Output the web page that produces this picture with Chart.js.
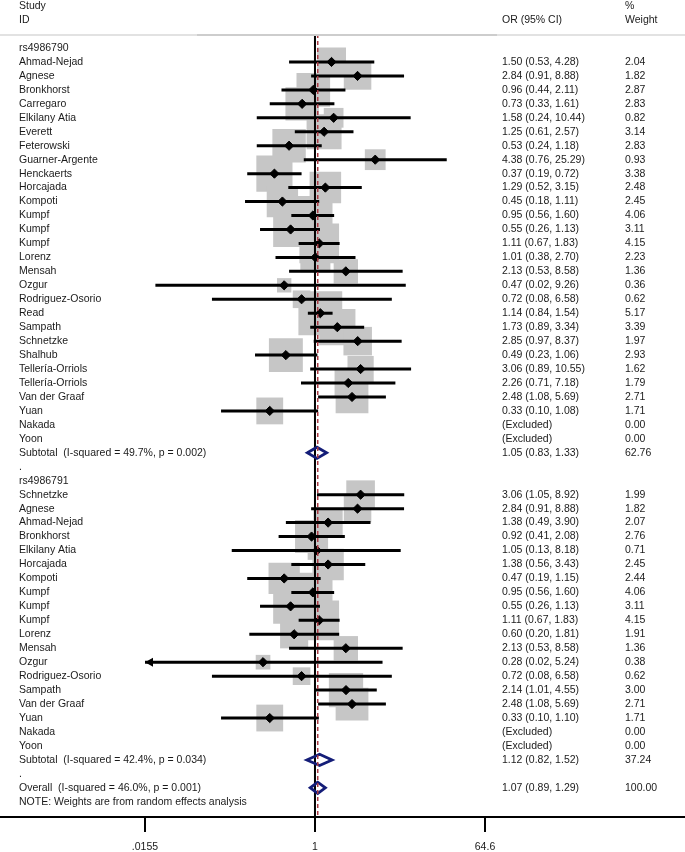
<!DOCTYPE html>
<html><head><meta charset="utf-8">
<script src="https://cdn.jsdelivr.net/npm/chart.js@4.4.0/dist/chart.umd.min.js"></script>
<style>html,body{margin:0;padding:0;background:#fff;}canvas{display:block;}</style>
</head><body>
<canvas id="c" width="685" height="852"></canvas>
<script>
const groupNames = ['rs4986790', 'rs4986791'];

const g1Studies = ['Ahmad-Nejad','Agnese','Bronkhorst','Carregaro','Elkilany Atia','Everett','Feterowski','Guarner-Argente','Henckaerts','Horcajada','Kompoti','Kumpf','Kumpf','Kumpf','Lorenz','Mensah','Ozgur','Rodriguez-Osorio','Read','Sampath','Schnetzke','Shalhub','Tellería-Orriols','Tellería-Orriols','Van der Graaf','Yuan','Nakada','Yoon'];
const g1OR     = [1.50,2.84,0.96,0.73,1.58,1.25,0.53,4.38,0.37,1.29,0.45,0.95,0.55,1.11,1.01,2.13,0.47,0.72,1.14,1.73,2.85,0.49,3.06,2.26,2.48,0.33,null,null];
const g1Lower  = [0.53,0.91,0.44,0.33,0.24,0.61,0.24,0.76,0.19,0.52,0.18,0.56,0.26,0.67,0.38,0.53,0.02,0.08,0.84,0.89,0.97,0.23,0.89,0.71,1.08,0.10,null,null];
const g1Upper  = [4.28,8.88,2.11,1.61,10.44,2.57,1.18,25.29,0.72,3.15,1.11,1.60,1.13,1.83,2.70,8.58,9.26,6.58,1.54,3.34,8.37,1.06,10.55,7.18,5.69,1.08,null,null];
const g1Weight = [2.04,1.82,2.87,2.83,0.82,3.14,2.83,0.93,3.38,2.48,2.45,4.06,3.11,4.15,2.23,1.36,0.36,0.62,5.17,3.39,1.97,2.93,1.62,1.79,2.71,1.71,0.00,0.00];

const g2Studies = ['Schnetzke','Agnese','Ahmad-Nejad','Bronkhorst','Elkilany Atia','Horcajada','Kompoti','Kumpf','Kumpf','Kumpf','Lorenz','Mensah','Ozgur','Rodriguez-Osorio','Sampath','Van der Graaf','Yuan','Nakada','Yoon'];
const g2OR     = [3.06,2.84,1.38,0.92,1.05,1.38,0.47,0.95,0.55,1.11,0.60,2.13,0.28,0.72,2.14,2.48,0.33,null,null];
const g2Lower  = [1.05,0.91,0.49,0.41,0.13,0.56,0.19,0.56,0.26,0.67,0.20,0.53,0.0154,0.08,1.01,1.08,0.10,null,null];
const g2Upper  = [8.92,8.88,3.90,2.08,8.18,3.43,1.15,1.60,1.13,1.83,1.81,8.58,5.24,6.58,4.55,5.69,1.10,null,null];
const g2Weight = [1.99,1.82,2.07,2.76,0.71,2.45,2.44,4.06,3.11,4.15,1.91,1.36,0.38,0.62,3.00,2.71,1.71,0.00,0.00];

const subtotalLabels = ['Subtotal  (I-squared = 49.7%, p = 0.002)', 'Subtotal  (I-squared = 42.4%, p = 0.034)'];
const subtotalOR     = [1.05, 1.12];
const subtotalLower  = [0.83, 0.82];
const subtotalUpper  = [1.33, 1.52];
const subtotalWeight = [62.76, 37.24];

const overallLabel  = 'Overall  (I-squared = 46.0%, p = 0.001)';
const overallOR     = [1.07];
const overallLower  = [0.89];
const overallUpper  = [1.29];
const overallWeight = [100.00];

const noteText = 'NOTE: Weights are from random effects analysis';
const headerLeft  = ['Study', 'ID'];
const headerOR    = ['', 'OR (95% CI)'];
const headerW     = ['%', 'Weight'];

const tickValues = [0.0155, 1, 64.6];
const tickLabels = ['.0155', '1', '64.6'];

// ---- build rows ----
const rows = [];
function addGroup(gi, studies, or, lo, hi, w) {
  rows.push({label: groupNames[gi], kind: 'head'});
  studies.forEach((s, i) => rows.push({label: s, or: or[i], lo: lo[i], hi: hi[i], w: w[i], kind: 'study'}));
  rows.push({label: subtotalLabels[gi], or: subtotalOR[gi], lo: subtotalLower[gi], hi: subtotalUpper[gi], w: subtotalWeight[gi], kind: 'pooled'});
  rows.push({label: '.', kind: 'blank'});
}
addGroup(0, g1Studies, g1OR, g1Lower, g1Upper, g1Weight);
addGroup(1, g2Studies, g2OR, g2Lower, g2Upper, g2Weight);
rows.push({label: overallLabel, or: overallOR[0], lo: overallLower[0], hi: overallUpper[0], w: overallWeight[0], kind: 'pooled'});
rows.push({label: noteText, kind: 'note'});

const xMin = tickValues[0], xMax = tickValues[tickValues.length - 1];
const FONT = '10.5px "Liberation Sans", Arial, sans-serif';
const TXT = '#1a1a1a';

const datasets = [];
// boxes
const boxData = [];
rows.forEach((r, i) => { if (r.kind === 'study' && r.or != null) boxData.push({x: r.or, y: i, w: r.w}); });
datasets.push({
  data: boxData, pointStyle: 'rect', backgroundColor: '#c6c6c6', borderWidth: 0,
  pointRadius: c => c.raw ? (17.6 * Math.sqrt(c.raw.w) + 3.8) * Math.SQRT1_2 : 0,
  order: 6
});
// null line at 1
datasets.push({
  data: [{x: 1, y: -1}, {x: 1, y: 56}], showLine: true, borderColor: '#000', borderWidth: 2,
  pointRadius: 0, order: 5
});
// CI lines
const ciLimit = [];
rows.forEach((r, i) => {
  if (r.kind === 'study' && r.or != null) {
    datasets.push({
      data: [{x: Math.max(r.lo, xMin), y: i}, {x: Math.min(r.hi, xMax), y: i}],
      showLine: true, borderColor: '#000', borderWidth: 3, pointRadius: 0, borderCapStyle: 'butt', order: 4
    });
    if (r.lo < xMin) ciLimit.push({row: i});
  }
});
// point estimates
datasets.push({
  data: boxData.map(p => ({x: p.x, y: p.y})), pointStyle: 'rectRot', pointRadius: 4.6,
  backgroundColor: '#000', borderColor: '#000', borderWidth: 1, order: 3
});
// pooled diamonds
const DH = 0.4;
rows.forEach((r, i) => {
  if (r.kind === 'pooled') {
    datasets.push({
      data: [{x: r.lo, y: i}, {x: r.or, y: i - DH}, {x: r.hi, y: i}, {x: r.or, y: i + DH}, {x: r.lo, y: i}, {x: r.or, y: i - DH}],
      showLine: true, borderColor: '#141d78', borderWidth: 2.8, pointRadius: 0,
      borderJoinStyle: 'miter', tension: 0, order: 2
    });
  }
});
// overall dashed line
datasets.push({
  data: [{x: overallOR[0], y: -1}, {x: overallOR[0], y: 56}], showLine: true, borderColor: '#a83a44',
  borderWidth: 1.5, borderDash: [4, 3], pointRadius: 0, order: 1
});

const textPlugin = {
  id: 'forestText',
  beforeDatasetsDraw(chart) {
    const ctx = chart.ctx, ca = chart.chartArea;
    ctx.save();
    ctx.lineWidth = 2;
    ctx.strokeStyle = '#e2e2e2';
    ctx.beginPath(); ctx.moveTo(0, ca.top - 1); ctx.lineTo(chart.width, ca.top - 1); ctx.stroke();
    ctx.strokeStyle = '#cdcdcd';
    ctx.beginPath(); ctx.moveTo(197, ca.top - 1); ctx.lineTo(497, ca.top - 1); ctx.stroke();
    ctx.restore();
  },
  afterDatasetsDraw(chart) {
    const ctx = chart.ctx, xs = chart.scales.x, ys = chart.scales.y, ca = chart.chartArea;
    ctx.save();
    // arrows for truncated CIs
    ctx.fillStyle = '#000';
    ciLimit.forEach(a => {
      const px = xs.getPixelForValue(xMin), py = ys.getPixelForValue(a.row);
      ctx.beginPath(); ctx.moveTo(px, py); ctx.lineTo(px + 8, py - 4.5); ctx.lineTo(px + 8, py + 4.5); ctx.closePath(); ctx.fill();
    });
    // axis
    ctx.strokeStyle = '#000'; ctx.lineWidth = 2;
    ctx.beginPath(); ctx.moveTo(0, ca.bottom); ctx.lineTo(chart.width, ca.bottom); ctx.stroke();
    ctx.font = FONT; ctx.fillStyle = TXT; ctx.textBaseline = 'middle';
    tickValues.forEach((v, i) => {
      const px = xs.getPixelForValue(v);
      ctx.beginPath(); ctx.moveTo(px, ca.bottom); ctx.lineTo(px, ca.bottom + 15); ctx.stroke();
      ctx.textAlign = 'center';
      ctx.fillText(tickLabels[i], px, ca.bottom + 30);
    });
    // headers
    ctx.textAlign = 'left';
    headerLeft.forEach((t, k) => {
      const py = ys.getPixelForValue(-3 + k);
      ctx.fillText(t, 19, py);
      ctx.fillText(headerOR[k], 502, py);
      ctx.fillText(headerW[k], 625, py);
    });
    // rows
    rows.forEach((r, i) => {
      const py = ys.getPixelForValue(i);
      ctx.fillText(r.label, 19, py);
      if (r.kind === 'study' || r.kind === 'pooled') {
        if (r.or == null) ctx.fillText('(Excluded)', 502, py);
        else ctx.fillText(r.or.toFixed(2) + ' (' + r.lo.toFixed(2) + ', ' + r.hi.toFixed(2) + ')', 502, py);
        ctx.fillText(r.w.toFixed(2), 625, py);
      }
    });
    ctx.restore();
  }
};

new Chart(document.getElementById('c'), {
  type: 'scatter',
  data: {datasets},
  options: {
    responsive: false, animation: false,
    layout: {padding: {left: 145, right: 200, top: 36, bottom: 35}},
    scales: {
      x: {type: 'logarithmic', min: xMin, max: xMax, display: false, bounds: 'data'},
      y: {type: 'linear', min: -0.86, max: 55.09, reverse: true, display: false}
    },
    plugins: {legend: {display: false}, tooltip: {enabled: false}}
  },
  plugins: [textPlugin]
});
</script>
</body></html>
